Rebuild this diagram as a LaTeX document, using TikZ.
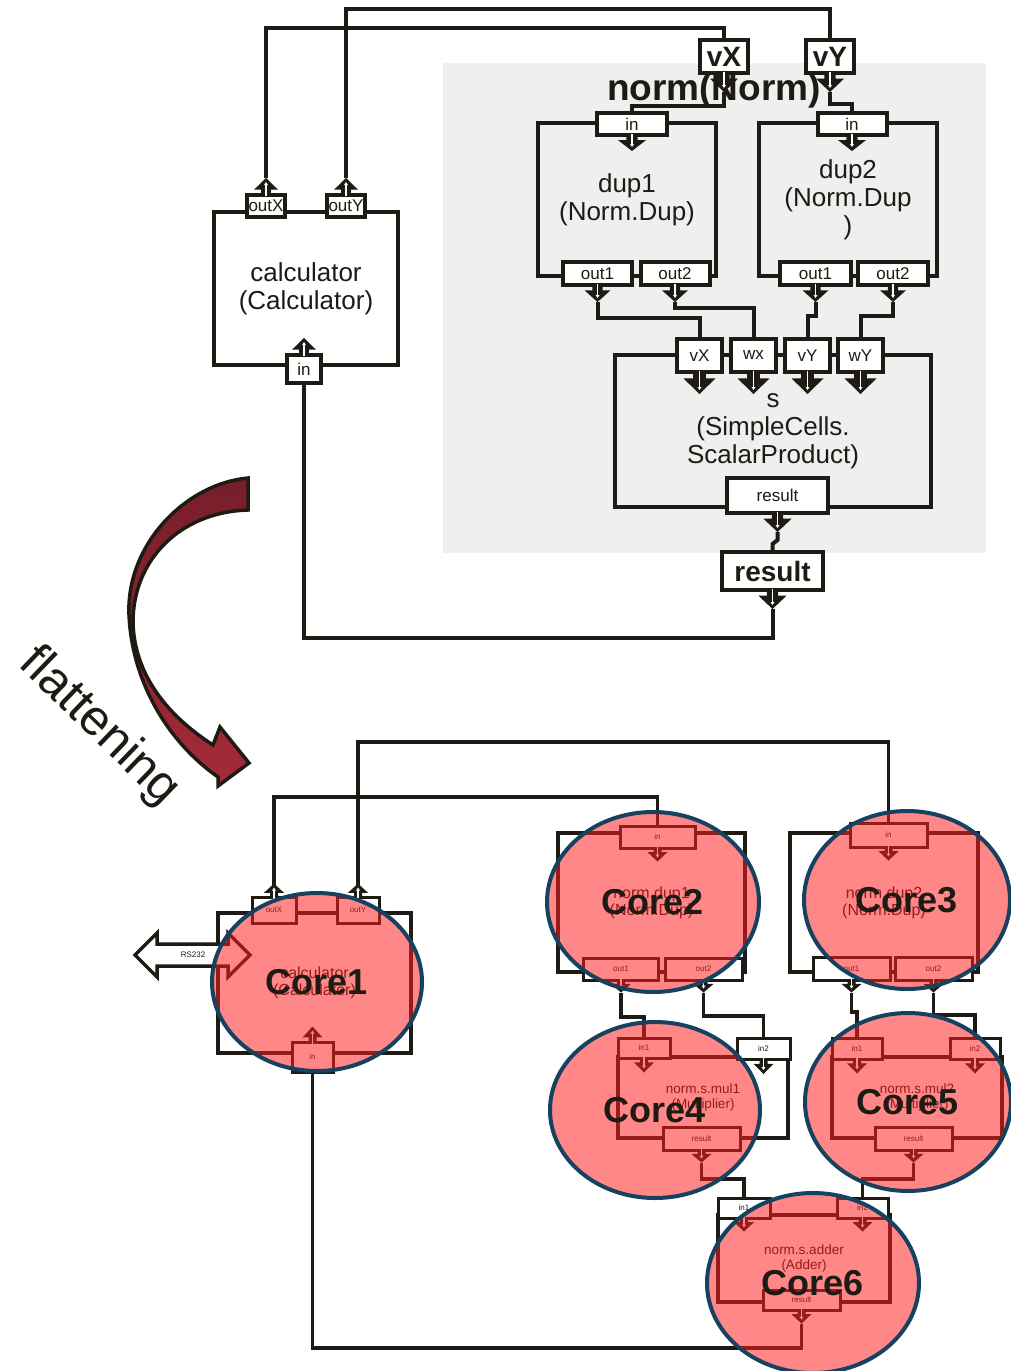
\documentclass[tikz,border=0pt]{standalone}
\usepackage{fontspec}
\setmainfont{Liberation Sans}
\usetikzlibrary{shapes.geometric,calc}
\definecolor{ink}{RGB}{30,27,20}
\definecolor{panel}{RGB}{239,239,239}
\definecolor{rim}{RGB}{22,66,96}
\definecolor{coral}{RGB}{255,30,30}
\definecolor{wineA}{RGB}{118,30,42}
\definecolor{wineB}{RGB}{165,42,56}

% block arrow below a port, pointing down; defines (<node>-tip)
\newcommand\arrdn[3]{%
  \begin{scope}[shift={(#1.south)}]
    \fill[ink] ({-0.4*#3},-1) -- ({0.4*#3},-1) -- ({0.4*#3},{0.22*#2}) -- (#3,{0.22*#2})
      -- (0,#2) -- ({-#3},{0.22*#2}) -- ({-0.4*#3},{0.22*#2}) -- cycle;
    \draw[white,line width=1.1] (0,-3) -- (0,{#2-6});
    \fill[white] (-2,{#2-7}) -- (2,{#2-7}) -- (0,{#2-4}) -- cycle;
    \coordinate (#1-tip) at (0,#2);
  \end{scope}}
% block arrow above a port, pointing up; defines (<node>-tip)
\newcommand\arrup[3]{%
  \begin{scope}[shift={(#1.north)}]
    \fill[ink] ({-0.4*#3},1) -- ({0.4*#3},1) -- ({0.4*#3},{-0.22*#2}) -- (#3,{-0.22*#2})
      -- (0,-#2) -- ({-#3},{-0.22*#2}) -- ({-0.4*#3},{-0.22*#2}) -- cycle;
    \draw[white,line width=1.1] (0,3) -- (0,{-#2+6});
    \fill[white] (-2,{-#2+7}) -- (2,{-#2+7}) -- (0,{-#2+4}) -- cycle;
    \coordinate (#1-tip) at (0,-#2);
  \end{scope}}

\tikzset{
  wire/.style={draw=ink,line width=4},
  wireb/.style={draw=ink,line width=3.5},
  blk/.style={draw=ink,line width=4,inner sep=0,align=center,text=ink,
    font=\fontsize{26}{28}\selectfont},
  blkb/.style={draw=ink,fill=white,line width=3.5,inner sep=0,align=center,text=ink,
    font=\fontsize{16}{17}\selectfont},
  blks/.style={blkb,font=\fontsize{13.5}{15}\selectfont},
  port/.style={draw=ink,fill=white,line width=4,inner sep=0,text=ink,
    font=\fontsize{17}{17}\selectfont},
  bigport/.style={port,font=\bfseries\fontsize{28}{28}\selectfont},
  portb/.style={draw=ink,fill=white,line width=3,inner sep=0,text=ink,
    font=\fontsize{8}{8}\selectfont},
  core/.style={ellipse,draw=rim,line width=4,fill=coral,fill opacity=0.53,
    text opacity=1,inner sep=0,text=ink,font=\bfseries\fontsize{36}{36}\selectfont},
}

\begin{document}
\begin{tikzpicture}[x=1pt,y=-1pt]
\useasboundingbox (0,0) rectangle (1010,1371);
\fill[white] (0,0) rectangle (1010,1371);

% composite panel
\fill[panel] (443,63) rectangle (986,553);
\node[anchor=base,text=ink,font=\bfseries\fontsize{37}{37}\selectfont] (normlbl) at (714,100) {norm(Norm)};

% ---------------- hierarchical view ----------------
\node[blk,fill=white,minimum width=184,minimum height=153] (calc) at (306,288.5) {calculator\\(Calculator)};
\node[blk,minimum width=178,minimum height=153] (dup1) at (627,199.5) {dup1\\(Norm.Dup)};
\node[blk,minimum width=178,minimum height=153] (dup2) at (848,199.5) {dup2\\(Norm.Dup\\)};
\node[blk,minimum width=316,minimum height=152] (sp) at (773,431) {s\\(SimpleCells.\\ScalarProduct)};

\node[port,minimum width=38,minimum height=22] (outX) at (266,206) {outX};
\node[port,minimum width=38,minimum height=22] (outY) at (346,206) {outY};
\node[port,minimum width=34,minimum height=28] (cin) at (304,369) {in};
\arrup{outX}{15}{12}
\arrup{outY}{15}{12}
\arrup{cin}{15}{12}

\node[bigport,minimum width=48,minimum height=33] (vX) at (724,56.5) {vX};
\node[bigport,minimum width=48,minimum height=33] (vY) at (830,56.5) {vY};
\arrdn{vX}{17}{14}
\arrdn{vY}{17}{14}

\node[port,minimum width=70,minimum height=22] (d1in) at (632,124) {in};
\node[port,minimum width=69,minimum height=23] (d1o1) at (597.5,273.5) {out1};
\node[port,minimum width=69,minimum height=23] (d1o2) at (675,273.5) {out2};
\node[port,minimum width=69,minimum height=22] (d2in) at (852,124) {in};
\node[port,minimum width=71,minimum height=23] (d2o1) at (815.5,273.5) {out1};
\node[port,minimum width=70,minimum height=23] (d2o2) at (893,273.5) {out2};
\arrdn{d1in}{14}{14}
\arrdn{d1o1}{15}{13}
\arrdn{d1o2}{15}{13}
\arrdn{d2in}{14}{14}
\arrdn{d2o1}{15}{13}
\arrdn{d2o2}{15}{13}

\node[port,minimum width=45,minimum height=33] (svX) at (699.5,355.5) {vX};
\node[port,minimum width=45,minimum height=33] (swx) at (753.5,355.5) {wx};
\node[port,minimum width=45,minimum height=33] (svY) at (807.5,355.5) {vY};
\node[port,minimum width=45,minimum height=33] (swY) at (860.5,355.5) {wY};
\arrdn{svX}{20}{16}
\arrdn{swx}{20}{16}
\arrdn{svY}{20}{16}
\arrdn{swY}{20}{16}
\node[port,minimum width=101,minimum height=35] (sres) at (777.5,495.5) {result};
\arrdn{sres}{17}{14}
\node[bigport,minimum width=101,minimum height=38] (rout) at (772.5,571) {result};
\arrdn{rout}{17}{14}

% wiring of the hierarchical view
\draw[wire] (outX-tip) |- (724,28) -- (vX.north);
\draw[wire] (outY-tip) |- (830,9) -- (vY.north);
\draw[wire] (vX-tip) |- (632,106) -- (d1in.north);
\draw[wire] (vY-tip) |- (852,104) -- (d2in.north);
\draw[wire] (d1o1-tip) |- (699.5,318) -- (svX.north);
\draw[wire] (d1o2-tip) |- (753.5,308) -- (swx.north);
\draw[wire] (d2o1-tip) |- (807.5,316) -- (svY.north);
\draw[wire] (d2o2-tip) |- (860.5,316) -- (swY.north);
\draw[wire] (sres-tip) -- (777.5,540) -- (772.5,544) -- (rout.north);
\draw[wire] (rout-tip) |- (304,638) -- (cin.south);

% ---------------- flattening arrow ----------------
\path[draw=ink,line width=3.5,top color=wineA,bottom color=wineB]
  (248,478) .. controls (185,484) and (126,545) .. (129,615)
  .. controls (132,682) and (168,742) .. (218,777) -- (218,786) -- (249,763) -- (220,727) -- (213,745)
  .. controls (162,712) and (134,670) .. (133,622)
  .. controls (133,560) and (180,512) .. (248,510) -- cycle;
\node[rotate=-44,text=ink,font=\fontsize{50}{50}\selectfont] (flat) at (99,727) {flattening};

% ---------------- flattened view ----------------
\draw[wireb] (358,885) |- (888.5,742) -- (888.5,823);
\draw[wireb] (274,885) |- (657.5,797) -- (657.5,826);

\node[blkb,minimum width=193,minimum height=140] (fcalc) at (314.5,983) {calculator\\(Calculator)};
\node[portb,minimum width=44,minimum height=26] (c1oX) at (274,910) {outX};
\node[portb,minimum width=42,minimum height=26] (c1oY) at (358,910) {outY};
\node[portb,minimum width=41,minimum height=30] (c1in) at (312.5,1057) {in};
\arrup{c1oX}{12}{10}
\arrup{c1oY}{12}{10}
\arrup{c1in}{14}{10}

\node[blkb,minimum width=187,minimum height=139] (fdup1) at (651.5,902.5) {norm.dup1\\(Norm.Dup)};
\node[portb,minimum width=75,minimum height=22] (c2in) at (657.5,837) {in};
\node[portb,minimum width=75,minimum height=22] (c2o1) at (621,969) {out1};
\node[portb,minimum width=77,minimum height=22] (c2o2) at (703.5,969) {out2};
\arrdn{c2in}{12}{10}
\arrdn{c2o1}{11}{10}
\arrdn{c2o2}{11}{10}

\node[blkb,minimum width=188,minimum height=139] (fdup2) at (884,902.5) {norm.dup2\\(Norm.Dup)};
\node[portb,minimum width=77,minimum height=24] (c3in) at (888.5,835) {in};
\node[portb,minimum width=77,minimum height=23] (c3o1) at (851.5,968.5) {out1};
\node[portb,minimum width=77,minimum height=23] (c3o2) at (933.5,968.5) {out2};
\arrdn{c3in}{12}{10}
\arrdn{c3o1}{11}{10}
\arrdn{c3o2}{11}{10}

\node[blks,minimum width=170,minimum height=81] (fmul1) at (703,1097.5) {norm.s.mul1\\(Multiplier)};
\node[portb,minimum width=52,minimum height=20] (c4in1) at (644,1048) {in1};
\node[portb,minimum width=53,minimum height=21] (c4in2) at (763.5,1049) {in2};
\node[portb,minimum width=77,minimum height=23] (c4res) at (701.5,1138.5) {result};
\arrdn{c4in1}{13}{10}
\arrdn{c4in2}{13}{10}
\arrdn{c4res}{11}{10}

\node[blks,minimum width=170,minimum height=81] (fmul2) at (917,1097.5) {norm.s.mul2\\(Multiplier)};
\node[portb,minimum width=50,minimum height=21] (c5in1) at (857,1048.5) {in1};
\node[portb,minimum width=50,minimum height=21] (c5in2) at (975,1048.5) {in2};
\node[portb,minimum width=77,minimum height=23] (c5res) at (913.5,1138.5) {result};
\arrdn{c5in1}{13}{10}
\arrdn{c5in2}{13}{10}
\arrdn{c5res}{11}{10}

\node[blks,minimum width=172,minimum height=87] (fadd) at (804,1258.5) {norm.s.adder\\(Adder)};
\node[portb,minimum width=52,minimum height=20] (c6in1) at (744,1208) {in1};
\node[portb,minimum width=51,minimum height=20] (c6in2) at (862.5,1208) {in2};
\node[portb,minimum width=77,minimum height=20] (c6res) at (801.5,1300) {result};
\arrdn{c6in1}{12}{10}
\arrdn{c6in2}{12}{10}
\arrdn{c6res}{12}{10}

% wiring of the flattened view
\draw[wireb] (c2o1-tip) |- (644,1017) -- (c4in1.north);
\draw[wireb] (c2o2-tip) |- (763.5,1016) -- (c4in2.north);
\draw[wireb] (c3o1-tip) |- (857,1012) -- (c5in1.north);
\draw[wireb] (c3o2-tip) |- (975,1015) -- (c5in2.north);
\draw[wireb] (c4res-tip) |- (744,1179) -- (c6in1.north);
\draw[wireb] (c5res-tip) |- (862.5,1179) -- (c6in2.north);
\draw[wireb] (c6res-tip) |- (312.5,1348) -- (c1in.south);

% serial link
\path[draw=ink,fill=white,line width=3.5]
  (135,955) -- (157,933) -- (157,944) -- (228,944) -- (228,933) -- (250,955)
  -- (228,977) -- (228,966) -- (157,966) -- (157,977) -- cycle;
\node[text=ink,font=\fontsize{8}{8}\selectfont] (rs) at (193,955) {RS232};

% core allocation
\node[core,minimum width=210,minimum height=178] (core1) at (317,982) {Core1};
\node[core,minimum width=212,minimum height=180] (core2) at (653,902) {Core2};
\node[core,minimum width=206,minimum height=178] (core3) at (907,900) {Core3};
\node[core,minimum width=210,minimum height=176] (core4) at (655,1110) {Core4};
\node[core,minimum width=206,minimum height=178] (core5) at (908,1102) {Core5};
\node[core,minimum width=212,minimum height=180] (core6) at (813,1283) {Core6};
\end{tikzpicture}
\end{document}
